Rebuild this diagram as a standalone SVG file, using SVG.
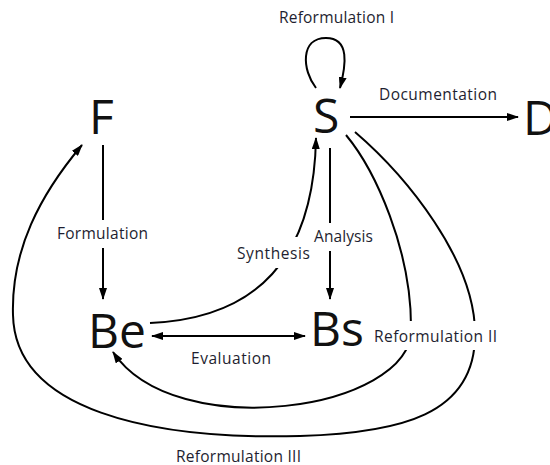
<svg xmlns="http://www.w3.org/2000/svg" width="550" height="465" viewBox="0 0 550 465">
<style>
.node{font-family:"Open Sans","Noto Sans","Liberation Sans",sans-serif;font-size:48px;fill:#111}
.lbl{font-family:"Open Sans","Noto Sans","Liberation Sans",sans-serif;font-size:15.5px;fill:#1e1e30}
.c{fill:none;stroke:#000;stroke-width:2}
</style>
<defs>
<marker id="ah" viewBox="0 0 12 8" refX="11" refY="4" markerWidth="12" markerHeight="8" orient="auto-start-reverse" markerUnits="userSpaceOnUse"><path d="M0,0 L12,4 L0,8 z" fill="#000"/></marker>
<mask id="gaps" maskUnits="userSpaceOnUse" x="0" y="0" width="550" height="465">
<rect x="0" y="0" width="550" height="465" fill="#fff"/>
<rect x="55" y="220" width="96" height="28" fill="#000"/>
<rect x="322" y="223" width="16" height="28" fill="#000"/>
<rect x="235" y="237" width="77" height="31" fill="#000"/>
<rect x="372" y="321" width="128" height="29" fill="#000"/>
</mask>
</defs>
<g id="connectors" mask="url(#gaps)">
<path class="c" d="M316,88 C302,70 300,38 326,38 C350,38 346,65 340,88" marker-end="url(#ah)"/>
<path class="c" d="M350,117 L518,117" marker-end="url(#ah)"/>
<path class="c" d="M103,145 L103,299" marker-end="url(#ah)"/>
<path class="c" d="M330,148 L330,299" marker-end="url(#ah)"/>
<path class="c" d="M150,323 C265,318 314,250 316,138" marker-end="url(#ah)"/>
<path class="c" d="M152,336 L305,336" marker-start="url(#ah)" marker-end="url(#ah)"/>
<path class="c" d="M346,135 C375,170 412,250 411,330 C411,410 175,445 113,352" marker-end="url(#ah)"/>
<path class="c" d="M355,132 C405,175 476,260 475,335 C475,415 400,433 300,436 C150,440 15,410 13,315 C11,250 40,195 82,145" marker-end="url(#ah)"/>
</g>
<g id="node-F"><text class="node" x="89" y="134">F</text></g>
<g id="node-S"><text class="node" x="313" y="133">S</text></g>
<g id="node-D"><text class="node" x="523" y="135">D</text></g>
<g id="node-Be"><text class="node" x="88" y="348">Be</text></g>
<g id="node-Bs"><text class="node" x="310" y="346">Bs</text></g>
<g id="labels">
<text class="lbl" x="279" y="23" textLength="115">Reformulation I</text>
<text class="lbl" x="379" y="100" textLength="118">Documentation</text>
<text class="lbl" x="57" y="239" textLength="91">Formulation</text>
<text class="lbl" x="314" y="242" textLength="59">Analysis</text>
<text class="lbl" x="237" y="259" textLength="73">Synthesis</text>
<text class="lbl" x="191" y="364" textLength="80">Evaluation</text>
<text class="lbl" x="374" y="342" textLength="123">Reformulation II</text>
<text class="lbl" x="176" y="462" textLength="125">Reformulation III</text>
</g>
</svg>
